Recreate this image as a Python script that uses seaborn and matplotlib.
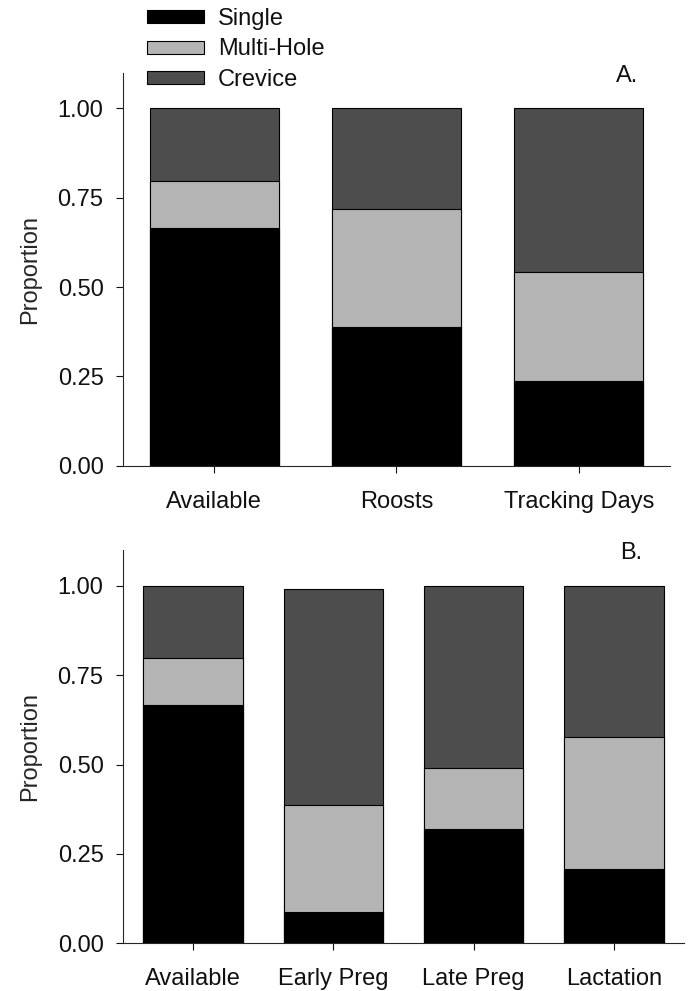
import matplotlib
matplotlib.use("Agg")
import matplotlib.pyplot as plt
from matplotlib.patches import Patch
import seaborn as sns
import pandas as pd

# panel A
cats_a = ["Available", "Roosts", "Tracking Days"]
single_a = [0.665, 0.388, 0.236]
multi_a = [0.133, 0.331, 0.307]
crevice_a = [0.202, 0.281, 0.457]

# panel B
cats_b = ["Available", "Early Preg", "Late Preg", "Lactation"]
single_b = [0.665, 0.089, 0.320, 0.209]
multi_b = [0.133, 0.299, 0.169, 0.368]
crevice_b = [0.202, 0.603, 0.511, 0.423]

series = ["Single", "Multi-Hole", "Crevice"]
colors = {"Single": "#000000", "Multi-Hole": "#b4b4b4", "Crevice": "#4d4d4d"}

FS = 17

sns.set_style("ticks")
plt.rcParams["font.family"] = ["Liberation Sans", "DejaVu Sans"]
plt.rcParams["font.size"] = FS
plt.rcParams["text.color"] = "#111111"


def stacked(ax, cats, single, multi, crevice, tag, tag_x):
    df = pd.DataFrame({"cat": cats, "Single": single, "Multi-Hole": multi, "Crevice": crevice})
    df["top_multi"] = df["Single"] + df["Multi-Hole"]
    df["top_crev"] = df["top_multi"] + df["Crevice"]
    # draw tallest first so the lower segments sit on top
    for col, name in [("top_crev", "Crevice"), ("top_multi", "Multi-Hole"), ("Single", "Single")]:
        sns.barplot(data=df, x="cat", y=col, color=colors[name], saturation=1,
                    edgecolor="black", linewidth=0.8, width=0.708, ax=ax)
    ax.set_ylim(0, 1.1)
    ax.set_xlim(-0.5, len(cats) - 0.5)
    ax.set_yticks([0, 0.25, 0.5, 0.75, 1.0])
    ax.set_yticklabels(["0.00", "0.25", "0.50", "0.75", "1.00"])
    ax.set_xlabel("")
    ax.set_ylabel("Proportion", fontsize=FS, labelpad=12)
    ax.tick_params(axis="both", labelsize=FS, length=5, width=0.8, colors="#111111")
    ax.tick_params(axis="y", pad=9)
    ax.tick_params(axis="x", pad=13)
    for s in ["left", "bottom"]:
        ax.spines[s].set_linewidth(0.8)
    sns.despine(ax=ax)
    ax.text(tag_x, 1.09, tag, transform=ax.get_yaxis_transform(), fontsize=FS,
            ha="center", va="center")


fig = plt.figure(figsize=(6.91, 9.91), dpi=100)
ax_a = fig.add_axes([0.178, 0.530, 0.7916, 0.3966])
ax_b = fig.add_axes([0.178, 0.0481, 0.8120, 0.397])

stacked(ax_a, cats_a, single_a, multi_a, crevice_a, "A.", 0.921)
stacked(ax_b, cats_b, single_b, multi_b, crevice_b, "B.", 0.905)

handles = [Patch(facecolor=colors[s], edgecolor="black", linewidth=0.8, label=s) for s in series]
fig.legend(handles=handles, loc="upper left", bbox_to_anchor=(0.2127, 0.992),
           frameon=False, fontsize=FS, handlelength=2.42, handleheight=0.47,
           labelspacing=0.36, handletextpad=0.59, borderpad=0, borderaxespad=0)

fig.savefig("out.png", dpi=100)
